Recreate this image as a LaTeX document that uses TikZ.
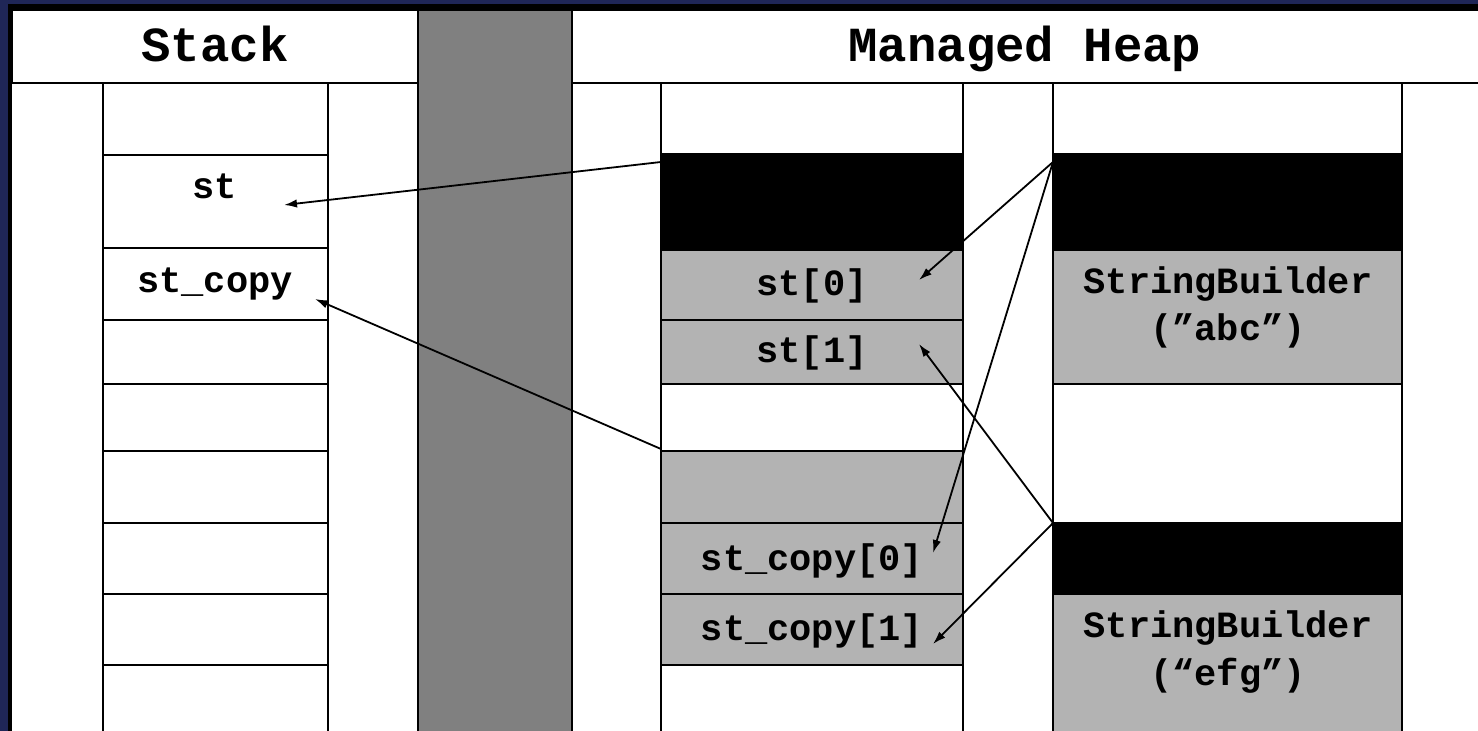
\documentclass[tikz,border=0pt]{standalone}
\usepackage{fontspec}
\setmainfont{Liberation Mono}
\usetikzlibrary{arrows.meta}
\definecolor{bgblue}{HTML}{1F2657}
\definecolor{cellgray}{HTML}{B3B3B3}
\definecolor{colgray}{HTML}{808080}
\tikzset{
  cellbox/.style={draw=black, line width=1.3pt, inner sep=0pt, outer sep=0pt},
  txt/.style={font=\bfseries\fontsize{18.5}{23.5}\selectfont, text height=13pt, text depth=3.7pt, inner sep=0pt},
  headtxt/.style={font=\bfseries\fontsize{24.5}{30}\selectfont, text height=17pt, text depth=5pt, inner sep=0pt},
  ptr/.style={draw=black, line width=0.9pt, -{Latex[length=6.5pt,width=4.2pt]}},
}
% name, x, y, w, h, fill
\newcommand\mcell[6]{\node[cellbox, fill=#6, minimum width=#4*0.5pt, minimum height=#5*0.5pt] (#1) at ({#2+#4/2},{#3+#5/2}) {};}
\begin{document}
\begin{tikzpicture}[x=0.5pt,y=-0.5pt]
\useasboundingbox (0,0) rectangle (1478,731);
\fill[bgblue] (0,0) rectangle (1478,731);
\fill[black] (8,4) rectangle (1478,731);
\fill[white] (12,10) rectangle (1478,731);
% header cells
\mcell{hstack}{12}{10}{406}{73}{white}
\mcell{hheap}{572}{10}{920}{73}{white}
\node[headtxt] (tstack) at (215,50) {Stack};
\node[headtxt] (theap) at (1025,50) {Managed Heap};
% separator column
\mcell{gcol}{418}{10}{154}{740}{colgray}
% stack column
\mcell{s0}{103}{83}{225}{72}{white}
\mcell{s1}{103}{155}{225}{93}{white}
\mcell{s2}{103}{248}{225}{72}{white}
\mcell{s3}{103}{320}{225}{64}{white}
\mcell{s4}{103}{384}{225}{67}{white}
\mcell{s5}{103}{451}{225}{72}{white}
\mcell{s6}{103}{523}{225}{71}{white}
\mcell{s7}{103}{594}{225}{71}{white}
\mcell{s8}{103}{665}{225}{90}{white}
\node[txt] (tst) at (215,189.5) {st};
\node[txt] (tstc) at (215,283.5) {st\_copy};
% heap left column
\mcell{h0}{661}{83}{302}{71}{white}
\mcell{h1}{661}{154}{302}{96}{black}
\mcell{h2}{661}{250}{302}{70}{cellgray}
\mcell{h3}{661}{320}{302}{64}{cellgray}
\mcell{h4}{661}{384}{302}{67}{white}
\mcell{h5}{661}{451}{302}{72}{cellgray}
\mcell{h6}{661}{523}{302}{71}{cellgray}
\mcell{h7}{661}{594}{302}{71}{cellgray}
\mcell{h8}{661}{665}{302}{90}{white}
\node[txt] (tst0) at (812,286.7) {st[0]};
\node[txt] (tst1) at (812,353.7) {st[1]};
\node[txt] (tsc0) at (812,561.7) {st\_copy[0]};
\node[txt] (tsc1) at (812,631.7) {st\_copy[1]};
% heap right column
\mcell{r0}{1053}{83}{349}{71}{white}
\mcell{r1}{1053}{154}{349}{96}{black}
\mcell{r2}{1053}{250}{349}{134}{cellgray}
\mcell{r3}{1053}{384}{349}{139}{white}
\mcell{r4}{1053}{523}{349}{71}{black}
\mcell{r5}{1053}{594}{349}{160}{cellgray}
\node[txt] (tsba) at (1228,284) {StringBuilder};
\node[txt] (tsbb) at (1228,331) {(”abc”)};
\node[txt] (tsbc) at (1228,628) {StringBuilder};
\node[txt] (tsbd) at (1228,676) {(“efg”)};
% pointer ends
\coordinate (a1s) at (661,162);
\coordinate (a2s) at (661,449);
\coordinate (a3s) at (1053,162);
\coordinate (a5s) at (1053,523);
\coordinate (t1) at (284,205);
\coordinate (t2) at (315,299);
\coordinate (t3) at (919,280);
\coordinate (t4) at (933,553);
\coordinate (t5) at (919,344);
\coordinate (t6) at (933,644);
\draw[ptr] (a1s) -- (t1);
\draw[ptr] (a2s) -- (t2);
\draw[ptr] (a3s) -- (t3);
\draw[ptr] (a3s) -- (t4);
\draw[ptr] (a5s) -- (t5);
\draw[ptr] (a5s) -- (t6);
\end{tikzpicture}
\end{document}
